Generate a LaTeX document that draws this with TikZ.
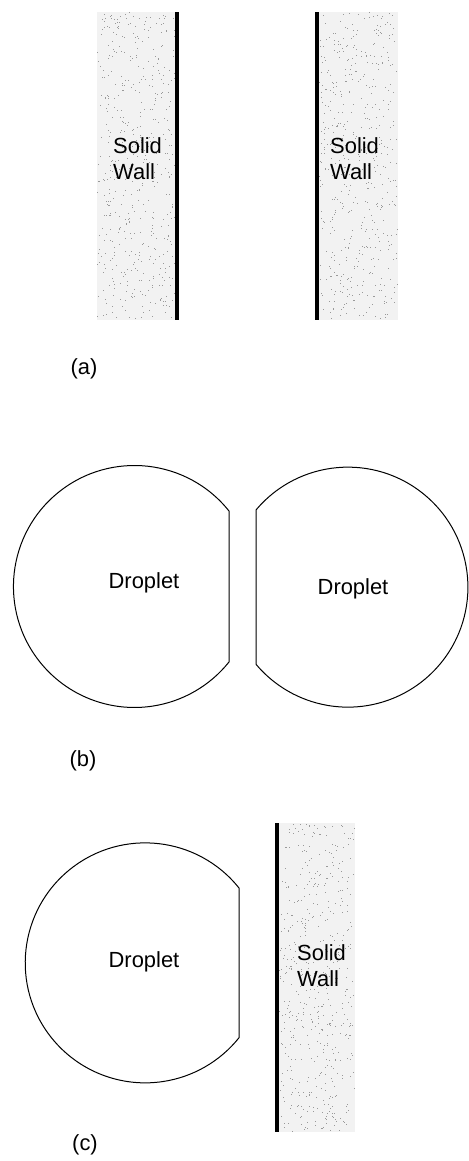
\documentclass[tikz,border=0pt]{standalone}
\usepackage{fontspec}
\setmainfont{Liberation Sans}
\begin{document}
\begin{tikzpicture}[x=1bp,y=-1bp,
  wall/.style={line width=4.5bp},
  stipple/.style={fill=black!5},
  grain/.style={fill=black!40},
  drop/.style={line width=1bp, line join=miter},
  txt/.style={font=\fontsize{22}{26}\selectfont, inner sep=0pt, align=left},
  tag/.style={font=\fontsize{22}{26}\selectfont, inner sep=0pt}]
\useasboundingbox (0,0) rectangle (469,1161);
\pgfmathsetseed{7}

% (a) two parallel solid walls
\fill[stipple] (97,12) rectangle (177,320);
\fill[stipple] (317,12) rectangle (398,320);
\foreach \i in {1,...,500} {
  \fill[grain] ({97+78*rnd},{12+306*rnd}) rectangle +(1,1);
  \fill[grain] ({319+78*rnd},{12+306*rnd}) rectangle +(1,1);
}
\draw[wall] (177,12) -- (177,320);
\draw[wall] (317,12) -- (317,320);
\node[txt, anchor=west] (wallA1) at (113,159) {Solid\\Wall};
\node[txt, anchor=west] (wallA2) at (330,159) {Solid\\Wall};
\node[tag] (capA) at (84,369) {(a)};

% (b) two droplets with flattened facing sides
\draw[drop] (229,511) arc[start angle=-38.6, end angle=-321.4, radius=121] -- cycle;
\draw[drop] (256,510) arc[start angle=-140, end angle=140, radius=120] -- cycle;
\node[txt] (dropB1) at (144,583) {Droplet};
\node[txt] (dropB2) at (353,589) {Droplet};
\node[tag] (capB) at (83,761) {(b)};

% (c) droplet next to a solid wall
\draw[drop] (239,888) arc[start angle=-38.6, end angle=-321.4, radius=120] -- cycle;
\fill[stipple] (277,823) rectangle (355,1132);
\foreach \i in {1,...,500} {
  \fill[grain] ({279+75*rnd},{823+308*rnd}) rectangle +(1,1);
}
\draw[wall] (277,823) -- (277,1132);
\node[txt] (dropC) at (144,962) {Droplet};
\node[txt, anchor=west] (wallC) at (297,966) {Solid\\Wall};
\node[tag] (capC) at (85,1145) {(c)};
\end{tikzpicture}
\end{document}
